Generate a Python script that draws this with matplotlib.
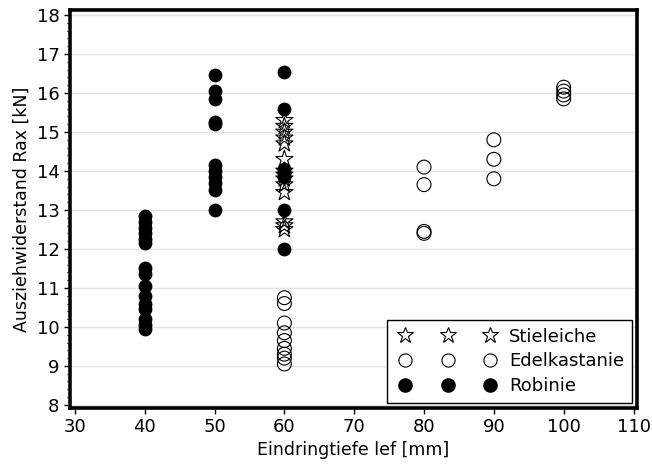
import numpy as np
import matplotlib.pyplot as plt
from matplotlib.lines import Line2D
from matplotlib.legend_handler import HandlerLine2D
from matplotlib.ticker import MultipleLocator

# Eindringtiefe lef [mm] und Ausziehwiderstand Rax [kN] je Holzart
robinie_lef = [40] * 15 + [50] * 11 + [60] * 7
robinie_rax = [12.85, 12.7, 12.55, 12.4, 12.25, 12.15,
               11.5, 11.35, 11.05, 10.8, 10.6, 10.45, 10.2, 10.05, 9.95,
               16.45, 16.05, 15.85, 15.25, 15.2, 14.15, 14.0, 13.85, 13.7, 13.5, 13.0,
               16.55, 15.6, 14.05, 13.95, 13.85, 13.0, 12.0]

stieleiche_lef = [60] * 14
stieleiche_rax = [15.3, 15.15, 15.0, 14.85, 14.7, 14.3, 14.0, 13.9, 13.8, 13.65,
                  13.45, 12.7, 12.6, 12.5]

edelkastanie_lef = [60] * 9 + [80] * 4 + [90] * 3 + [100] * 4
edelkastanie_rax = [10.75, 10.6, 10.1, 9.85, 9.65, 9.45, 9.3, 9.2, 9.05,
                    14.1, 13.65, 12.45, 12.4,
                    14.8, 14.3, 13.8,
                    16.15, 16.05, 15.95, 15.85]

plt.rcParams['font.family'] = ['DejaVu Sans']

fig = plt.figure(figsize=(6.52, 4.66), dpi=100)
ax = fig.add_axes([70 / 652, 58 / 466, 567 / 652, 398 / 466])

ax.scatter(edelkastanie_lef, edelkastanie_rax, s=100, marker='o',
           facecolors='none', edgecolors='black', linewidths=0.8, zorder=3)
ax.scatter(robinie_lef, robinie_rax, s=80, marker='o',
           color='black', zorder=3)
ax.scatter(stieleiche_lef, stieleiche_rax, s=170, marker='*',
           facecolors='none', edgecolors='black', linewidths=0.8, zorder=4)

ax.set_xlim(29.3, 110.5)
ax.set_ylim(7.92, 18.13)
ax.xaxis.set_major_locator(MultipleLocator(10))
ax.yaxis.set_major_locator(MultipleLocator(1))
ax.yaxis.set_minor_locator(MultipleLocator(0.2))
ax.tick_params(axis='both', which='major', labelsize=13, length=4, width=1)
ax.tick_params(axis='y', which='minor', length=2, width=0.8)

ax.grid(axis='y', color='#e3e3e3', linewidth=1)
ax.set_axisbelow(True)
for spine in ax.spines.values():
    spine.set_linewidth(2.6)

ax.set_xlabel('Eindringtiefe lef [mm]', fontsize=12.5, labelpad=3)
ax.set_ylabel('Ausziehwiderstand Rax [kN]', fontsize=12.5, labelpad=4)

# Legende mit je drei Symbolen pro Holzart
legend_handles = [
    Line2D([], [], linestyle='none', marker='*', markersize=12,
           markerfacecolor='none', markeredgecolor='black', markeredgewidth=0.8),
    Line2D([], [], linestyle='none', marker='o', markersize=9.5,
           markerfacecolor='none', markeredgecolor='black', markeredgewidth=0.8),
    Line2D([], [], linestyle='none', marker='o', markersize=9.5,
           markerfacecolor='black', markeredgecolor='black'),
]
leg = ax.legend(legend_handles, ['Stieleiche', 'Edelkastanie', 'Robinie'],
                loc='lower right', numpoints=3, fontsize=13,
                handler_map={Line2D: HandlerLine2D(marker_pad=0.6)},
                handlelength=5.9, handletextpad=0.45, labelspacing=0.38,
                borderpad=0.4, borderaxespad=0.3, fancybox=False, framealpha=1,
                edgecolor='black')
leg.get_frame().set_linewidth(1)

fig.savefig('out.png', dpi=100)
